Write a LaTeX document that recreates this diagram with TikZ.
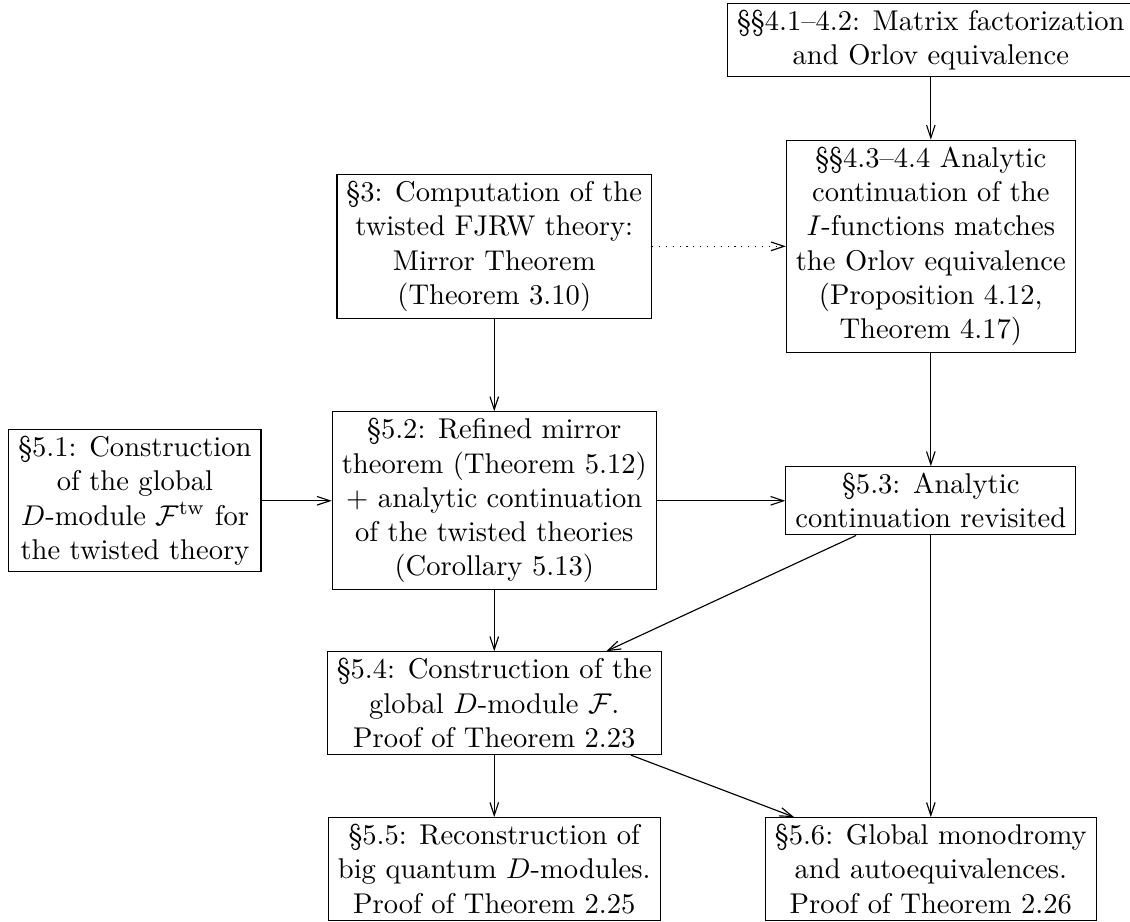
\documentclass[tikz,border=0pt]{standalone}
\usetikzlibrary{arrows.meta}
\begin{document}
\begin{tikzpicture}[every node/.style={draw, align=center, inner ysep=2.3pt}, >={Straight Barb[length=4.5pt,width=3pt]}]
\useasboundingbox (0,0) rectangle (13.90,-11.34);
% right column
\node (orlov) at (11.45,-0.49) {\S\S4.1--4.2: Matrix factorization\\and Orlov equivalence};
\node (contin) at (11.45,-3.03) {\S\S4.3--4.4 Analytic\\continuation of the\\$I$-functions matches\\the Orlov equivalence\\(Proposition 4.12,\\Theorem 4.17)};
\node (revisit) at (11.45,-6.16) {\S5.3: Analytic\\continuation revisited};
\node (monodr) at (11.45,-10.69) {\S5.6: Global monodromy\\and autoequivalences.\\Proof of Theorem 2.26};
% middle column
\node (fjrw) at (6.08,-3.03) {\S3: Computation of the\\twisted FJRW theory:\\Mirror Theorem\\(Theorem 3.10)};
\node (refined) at (6.08,-6.16) {\S5.2: Refined mirror\\theorem (Theorem 5.12)\\$+$ analytic continuation\\of the twisted theories\\(Corollary 5.13)};
\node (dmod) at (6.08,-8.65) {\S5.4: Construction of the\\global $D$-module $\mathcal{F}$.\\Proof of Theorem 2.23};
\node (recon) at (6.08,-10.69) {\S5.5: Reconstruction of\\big quantum $D$-modules.\\Proof of Theorem 2.25};
% left column
\node (global) at (1.66,-6.16) {\S5.1: Construction\\of the global\\$D$-module $\mathcal{F}^{\mathrm{tw}}$ for\\the twisted theory};

\draw[->] (orlov) -- (contin);
\draw[->, dotted] (fjrw) -- (contin);
\draw[->] (fjrw) -- (refined);
\draw[->] (global) -- (refined);
\draw[->] (refined) -- (revisit);
\draw[->] (contin) -- (revisit);
\draw[->] (refined) -- (dmod);
\draw[->] (revisit) -- (dmod);
\draw[->] (revisit) -- (monodr);
\draw[->] (dmod) -- (recon);
\draw[->] (dmod) -- (monodr);
\end{tikzpicture}
\end{document}
